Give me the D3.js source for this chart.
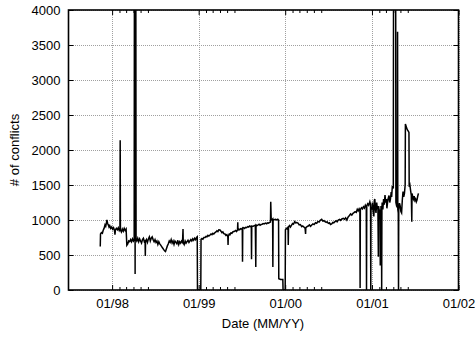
<!DOCTYPE html>
<html>
<head>
<meta charset="utf-8">
<script src="https://cdn.jsdelivr.net/npm/d3@7"></script>
<style>
body { margin: 0; background: #fff; }
text { font-family: "Liberation Sans", Arial, Helvetica, sans-serif; }
</style>
</head>
<body>
<script>

// daily conflict counts
var dates = [
  "1997-11-12","1997-11-13","1997-11-17","1997-11-21","1997-11-24","1997-11-28","1997-12-02","1997-12-05",
  "1997-12-08","1997-12-10","1997-12-13","1997-12-16","1997-12-19","1997-12-22","1997-12-26","1997-12-30",
  "1998-01-03","1998-01-07","1998-01-11","1998-01-13","1998-01-15","1998-01-19","1998-01-23","1998-01-27",
  "1998-01-31","1998-02-03","1998-02-04","1998-02-05","1998-02-09","1998-02-13","1998-02-17","1998-02-21",
  "1998-02-25","1998-03-01","1998-03-04","1998-03-08","1998-03-12","1998-03-16","1998-03-20","1998-03-24",
  "1998-03-28","1998-04-01","1998-04-04","1998-04-05","1998-04-07","1998-04-08","1998-04-09","1998-04-11",
  "1998-04-12","1998-04-15","1998-04-19","1998-04-23","1998-04-27","1998-05-01","1998-05-05","1998-05-09",
  "1998-05-13","1998-05-17","1998-05-20","1998-05-21","1998-05-22","1998-05-26","1998-05-30","1998-06-03",
  "1998-06-07","1998-06-11","1998-06-15","1998-06-19","1998-06-23","1998-06-27","1998-07-01","1998-07-05",
  "1998-07-09","1998-07-13","1998-07-17","1998-07-21","1998-07-25","1998-07-29","1998-08-02","1998-08-06",
  "1998-08-10","1998-08-14","1998-08-18","1998-08-22","1998-08-26","1998-08-30","1998-09-03","1998-09-07",
  "1998-09-11","1998-09-15","1998-09-19","1998-09-23","1998-09-27","1998-10-01","1998-10-05","1998-10-09",
  "1998-10-13","1998-10-17","1998-10-21","1998-10-25","1998-10-27","1998-10-28","1998-11-01","1998-11-05",
  "1998-11-09","1998-11-13","1998-11-17","1998-11-21","1998-11-25","1998-11-29","1998-12-03","1998-12-07",
  "1998-12-11","1998-12-15","1998-12-19","1998-12-23","1998-12-26","1998-12-27",
  "1999-01-10","1999-01-11","1999-01-15","1999-01-19","1999-01-23","1999-01-28","1999-02-01","1999-02-05",
  "1999-02-09","1999-02-13","1999-02-18","1999-02-22","1999-02-26","1999-03-02","1999-03-06","1999-03-11",
  "1999-03-15","1999-03-19","1999-03-23","1999-03-27","1999-04-01","1999-04-05","1999-04-09","1999-04-13",
  "1999-04-17","1999-04-22","1999-04-26","1999-04-30","1999-05-04","1999-05-05","1999-05-06","1999-05-10",
  "1999-05-13","1999-05-17","1999-05-21","1999-05-26","1999-06-02","1999-06-06","1999-06-10","1999-06-14",
  "1999-06-15","1999-06-16","1999-06-19","1999-06-23","1999-06-27","1999-07-01","1999-07-04","1999-07-05",
  "1999-07-06","1999-07-10","1999-07-14","1999-07-18","1999-07-22","1999-07-27","1999-07-31","1999-08-04",
  "1999-08-08","1999-08-11","1999-08-12","1999-08-13","1999-08-19","1999-08-23","1999-08-28","1999-08-30",
  "1999-08-31","1999-09-04","1999-09-09","1999-09-13","1999-09-17","1999-09-21","1999-09-26","1999-09-30",
  "1999-10-04","1999-10-07","1999-10-11","1999-10-15","1999-10-19","1999-10-23","1999-10-27","1999-10-31",
  "1999-11-01","1999-11-03","1999-11-07","1999-11-09","1999-11-10","1999-11-11","1999-11-16","1999-11-21",
  "1999-11-26","1999-12-01","1999-12-04","1999-12-05","1999-12-13","1999-12-22","1999-12-23","2000-01-01",
  "2000-01-02","2000-01-06","2000-01-10","2000-01-13","2000-01-14","2000-01-15","2000-01-19","2000-01-23",
  "2000-01-28","2000-02-01","2000-02-05","2000-02-10","2000-02-14","2000-02-19","2000-02-25","2000-02-29",
  "2000-03-05","2000-03-11","2000-03-15","2000-03-20","2000-03-25","2000-03-27","2000-03-28","2000-04-02",
  "2000-04-07","2000-04-12","2000-04-17","2000-04-22","2000-04-27","2000-05-02","2000-05-08","2000-05-13",
  "2000-05-18","2000-05-23","2000-05-28","2000-06-03","2000-06-08","2000-06-13","2000-06-17","2000-06-22",
  "2000-06-26","2000-07-01","2000-07-06","2000-07-10","2000-07-15","2000-07-20","2000-07-24","2000-07-29",
  "2000-08-03","2000-08-07","2000-08-12","2000-08-17","2000-08-22","2000-08-27","2000-09-02","2000-09-07",
  "2000-09-12","2000-09-17","2000-09-22","2000-09-27","2000-10-03","2000-10-08","2000-10-13","2000-10-17",
  "2000-10-22","2000-10-27","2000-10-31","2000-11-04","2000-11-08","2000-11-11","2000-11-12","2000-11-13",
  "2000-11-18","2000-11-22","2000-11-26","2000-11-30","2000-12-04","2000-12-08","2000-12-09","2000-12-10",
  "2000-12-14","2000-12-18","2000-12-23","2000-12-26","2000-12-27","2000-12-28",
  "2001-01-01","2001-01-03","2001-01-06","2001-01-09","2001-01-11","2001-01-13","2001-01-16","2001-01-18",
  "2001-01-21","2001-01-23","2001-01-26","2001-01-28","2001-01-29","2001-02-01","2001-02-04","2001-02-05",
  "2001-02-06","2001-02-07","2001-02-08","2001-02-10","2001-02-11","2001-02-12","2001-02-13","2001-02-16",
  "2001-02-19","2001-02-22","2001-02-25","2001-02-28","2001-03-03","2001-03-05","2001-03-08","2001-03-10",
  "2001-03-14","2001-03-17","2001-03-20","2001-03-23","2001-03-25","2001-03-28","2001-04-01","2001-04-02",
  "2001-04-11","2001-04-12","2001-04-15","2001-04-18","2001-04-19","2001-04-20","2001-04-22","2001-04-23",
  "2001-04-24","2001-04-27","2001-04-30","2001-05-03","2001-05-06","2001-05-09","2001-05-12","2001-05-15",
  "2001-05-18","2001-05-21","2001-05-22","2001-05-26","2001-05-30","2001-06-03","2001-06-06","2001-06-07",
  "2001-06-10","2001-06-13","2001-06-16","2001-06-18","2001-06-19","2001-06-22","2001-06-25","2001-06-28",
  "2001-07-01","2001-07-04","2001-07-07","2001-07-10","2001-07-13","2001-07-16"
];

var conflicts = [
  620,800,820,810,850,880,930,910,
  960,1000,950,930,900,920,880,900,
  870,890,850,790,860,880,860,890,
  850,870,2140,860,830,870,840,880,
  850,870,640,660,700,690,720,690,
  730,700,720,4500,4500,230,4500,4500,
  720,700,740,690,730,700,670,720,
  740,690,700,485,690,720,680,730,
  760,700,740,760,720,690,720,680,
  700,650,690,660,640,620,600,580,
  560,550,590,630,660,700,680,720,
  670,700,650,700,680,660,710,650,
  690,670,700,680,870,680,650,700,
  670,690,710,680,700,720,700,730,
  710,740,720,750,760,0,
  0,724,735,725,750,750,765,760,
  780,770,786,800,790,810,800,820,
  830,845,835,860,857,840,820,830,
  805,800,780,790,762,643,770,800,
  790,815,810,833,840,850,835,860,
  967,850,870,860,875,870,880,405,
  880,890,880,895,890,905,900,915,
  905,910,440,910,910,920,925,330,
  930,920,930,940,925,935,940,950,
  945,950,955,945,960,955,965,970,
  1262,1010,1000,1010,330,1010,1005,1010,
  1000,1010,1000,160,150,150,0,0,
  860,880,870,905,643,900,920,900,
  928,950,940,976,960,965,952,930,
  935,905,915,900,881,800,890,905,
  914,930,910,928,945,935,960,952,
  980,970,995,1010,985,990,976,965,
  975,952,960,935,943,965,960,976,
  990,975,1000,1010,995,1015,1024,1010,
  1030,1000,1040,1060,1086,1070,1095,1105,
  1120,1110,1152,1130,1160,1140,30,1150,
  1175,1160,1190,1170,1210,1180,0,1200,
  1230,1210,1262,1220,0,1180,
  1150,1250,1120,1050,1280,1300,1150,1100,
  1250,1180,1200,476,1200,1120,1150,350,
  1100,430,1200,1180,0,1150,1250,1150,
  1300,1220,1357,1250,1300,1167,1260,1300,
  1350,1250,1300,1400,1330,1486,1450,4500,
  4500,1250,1200,1180,3690,1150,1100,0,
  1150,1240,1200,1120,1100,1286,1405,1330,
  1380,1500,2370,2330,2290,2270,2250,1475,
  1500,1420,1350,976,1380,1333,1300,1340,
  1280,1300,1260,1286,1340,1380
];

var yTicks = [0, 500, 1000, 1500, 2000, 2500, 3000, 3500, 4000];
var xTickDates = ["1998-01-01", "1999-01-01", "2000-01-01", "2001-01-01", "2002-01-01"];
var xTickLabels = ["01/98", "01/99", "01/00", "01/01", "01/02"];
var xDomain = ["1997-07-01", "2002-01-01"];
var yDomain = [0, 4000];
var xTitle = "Date (MM/YY)";
var yTitle = "# of conflicts";

var width = 475, height = 337;
// plot frame (window.top is read only, so own names)
var plotLeft = 68.5, plotRight = 458.5, plotTop = 10, plotBottom = 290;
var fontSize = "13px";

var parse = d3.utcParse("%Y-%m-%d");

var data = dates.map(function(d, i){ return {date: parse(d), value: conflicts[i]}; });

var x = d3.scaleUtc()
          .domain(xDomain.map(parse))
          .range([plotLeft, plotRight]);

var y = d3.scaleLinear()
          .domain(yDomain)
          .range([plotBottom, plotTop]);

var xTicks = xTickDates.map(parse);

// minor ticks: the first few months after each labelled year
var minorTicks = [];
xTicks.slice(0, -1).forEach(function(t){
  var feb = d3.utcMonth.offset(t, 1);
  minorTicks = minorTicks.concat(d3.utcMonth.range(feb, d3.utcMonth.offset(t, 6)));
});

var svg = d3.select("body")
            .append("svg")
            .attr("width", width)
            .attr("height", height)
            .style("display", "block");

svg.append("rect")
   .attr("width", width)
   .attr("height", height)
   .attr("fill", "#fff");

//grid

svg.append("g")
   .attr("transform", "translate(0," + plotBottom + ")")
   .call(d3.axisBottom(x).tickValues(xTicks).tickSize(-(plotBottom - plotTop)).tickFormat(""))
   .call(function(g){ g.select(".domain").remove(); })
   .selectAll("line")
   .attr("stroke", "#a0a0a0")
   .attr("stroke-dasharray", "1,1")
   .attr("shape-rendering", "crispEdges");

svg.append("g")
   .attr("transform", "translate(" + plotLeft + ",0)")
   .call(d3.axisLeft(y).tickValues(yTicks).tickSize(-(plotRight - plotLeft)).tickFormat(""))
   .call(function(g){ g.select(".domain").remove(); })
   .selectAll("line")
   .attr("stroke", "#a0a0a0")
   .attr("stroke-dasharray", "1,1")
   .attr("shape-rendering", "crispEdges");

//data line

svg.append("clipPath")
   .attr("id", "plot-clip")
   .append("rect")
   .attr("x", plotLeft)
   .attr("y", plotTop)
   .attr("width", plotRight - plotLeft)
   .attr("height", plotBottom - plotTop);

var line = d3.line()
             .x(function(d){ return x(d.date); })
             .y(function(d){ return y(d.value); });

svg.append("path")
   .datum(data)
   .attr("clip-path", "url(#plot-clip)")
   .attr("fill", "none")
   .attr("stroke", "#000")
   .attr("stroke-width", 1.5)
   .attr("d", line);

//axes, ticks inward like gnuplot

function tidy(g){
  g.select(".domain").remove();
  g.selectAll("line").attr("stroke", "#000").attr("stroke-width", 1);
}

svg.append("g")
   .attr("transform", "translate(0," + plotBottom + ")")
   .call(d3.axisBottom(x).tickValues(xTicks).tickSize(-5).tickPadding(9)
           .tickFormat(function(d, i){ return xTickLabels[i]; }))
   .call(tidy)
   .selectAll("text")
   .attr("fill", "#000")
   .style("font-size", fontSize);

svg.append("g")
   .attr("transform", "translate(0," + plotBottom + ")")
   .call(d3.axisBottom(x).tickValues(minorTicks).tickSize(-3).tickFormat(""))
   .call(tidy);

svg.append("g")
   .attr("transform", "translate(0," + plotTop + ")")
   .call(d3.axisTop(x).tickValues(xTicks).tickSize(-5).tickFormat(""))
   .call(tidy);

svg.append("g")
   .attr("transform", "translate(0," + plotTop + ")")
   .call(d3.axisTop(x).tickValues(minorTicks).tickSize(-3).tickFormat(""))
   .call(tidy);

svg.append("g")
   .attr("transform", "translate(" + plotLeft + ",0)")
   .call(d3.axisLeft(y).tickValues(yTicks).tickSize(-5).tickPadding(8).tickFormat(d3.format("d")))
   .call(tidy)
   .selectAll("text")
   .attr("fill", "#000")
   .style("font-size", fontSize);

svg.append("g")
   .attr("transform", "translate(" + plotRight + ",0)")
   .call(d3.axisRight(y).tickValues(yTicks).tickSize(-5).tickFormat(""))
   .call(tidy);

//border

svg.append("rect")
   .attr("x", plotLeft)
   .attr("y", plotTop)
   .attr("width", plotRight - plotLeft)
   .attr("height", plotBottom - plotTop)
   .attr("fill", "none")
   .attr("stroke", "#000")
   .attr("stroke-width", 1.6);

//titles

svg.append("text")
   .attr("x", 263)
   .attr("y", 328)
   .attr("text-anchor", "middle")
   .style("font-size", fontSize)
   .text(xTitle);

svg.append("text")
   .attr("transform", "translate(18.5," + ((plotTop + plotBottom) / 2) + ") rotate(-90)")
   .attr("text-anchor", "middle")
   .style("font-size", fontSize)
   .text(yTitle);

</script>
</body>
</html>
